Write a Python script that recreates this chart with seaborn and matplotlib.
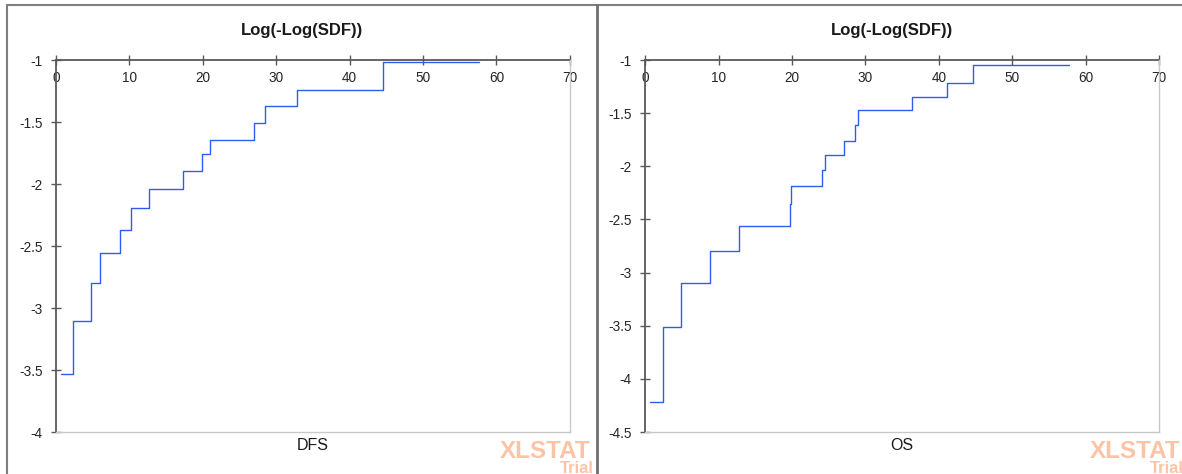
import matplotlib
matplotlib.use("Agg")
import matplotlib.pyplot as plt
import seaborn as sns
import pandas as pd
from matplotlib.lines import Line2D

# Log(-Log(SDF)) step curves for the two survival endpoints
dfs_time = [0.63, 2.35, 4.74, 5.94, 8.70, 10.27, 12.67, 17.25, 19.86, 21.00,
            27.05, 28.50, 32.90, 44.50, 57.60]
dfs_value = [-3.535, -3.105, -2.798, -2.559, -2.370, -2.195, -2.043, -1.895,
             -1.762, -1.643, -1.508, -1.373, -1.238, -1.014, -1.014]

os_time = [0.67, 2.47, 4.88, 8.79, 12.85, 19.74, 19.84, 24.05, 24.50, 27.10,
           28.60, 29.00, 36.40, 41.10, 44.60, 57.70]
os_value = [-4.219, -3.516, -3.094, -2.797, -2.560, -2.358, -2.189, -2.035,
            -1.896, -1.758, -1.607, -1.475, -1.352, -1.214, -1.050, -1.050]

x_ticks = [0, 10, 20, 30, 40, 50, 60, 70]
dfs_y_ticks = [-4, -3.5, -3, -2.5, -2, -1.5, -1]
os_y_ticks = [-4.5, -4, -3.5, -3, -2.5, -2, -1.5, -1]

chart_title = "Log(-Log(SDF))"
panel_names = ["DFS", "OS"]

sns.set_theme(style="white")
plt.rcParams["font.family"] = ["Liberation Sans", "DejaVu Sans"]
plt.rcParams["axes.unicode_minus"] = False

W, H = 1182, 474
fig = plt.figure(figsize=(W / 100, H / 100), dpi=100)
fig.patch.set_facecolor("white")

LINE = "#2E5CF2"
AXIS = "#595959"
BORDER = "#C8C8C8"
FRAME = "#7F7F7F"
WATER = "#FDC3A5"

panels = [
    dict(name=panel_names[0], time=dfs_time, value=dfs_value, yticks=dfs_y_ticks,
         x0=55.9, x1=569.8, frame_l=7, frame_r=597),
    dict(name=panel_names[1], time=os_time, value=os_value, yticks=os_y_ticks,
         x0=645.1, x1=1159.3, frame_l=597, frame_r=1187),
]

top_px, bot_px = 60, 432

for p in panels:
    ax = fig.add_axes([p["x0"] / W, 1 - bot_px / H,
                       (p["x1"] - p["x0"]) / W, (bot_px - top_px) / H])
    df = pd.DataFrame({"time": p["time"], "value": p["value"]})
    sns.lineplot(data=df, x="time", y="value", ax=ax, color=LINE,
                 linewidth=1.0, drawstyle="steps-post", estimator=None)
    ymin = min(p["yticks"])
    ax.set_xlim(0, 70)
    ax.set_ylim(ymin, -1)
    ax.set_xticks(x_ticks)
    ax.set_xticklabels([f"{t:g}" for t in x_ticks])
    ax.set_yticks(p["yticks"])
    ax.set_yticklabels([f"{t:g}" for t in p["yticks"]])
    ax.set_xlabel("")
    ax.set_ylabel("")
    ax.grid(False)

    # horizontal axis runs along y = -1, plot-area border along the bottom
    ax.spines["bottom"].set_position(("data", -1))
    ax.spines["top"].set_position(("data", ymin))
    for side in ("bottom", "left"):
        ax.spines[side].set_color(AXIS)
        ax.spines[side].set_linewidth(1.3)
        ax.spines[side].set_zorder(1)
    for side in ("top", "right"):
        ax.spines[side].set_color(BORDER)
        ax.spines[side].set_linewidth(1.0)

    ax.tick_params(axis="both", direction="inout", length=7, width=1.0,
                   color=AXIS, labelsize=9.8, labelcolor="#262626")
    ax.tick_params(axis="x", bottom=True, top=False, pad=4.5)
    ax.tick_params(axis="y", left=True, right=False, pad=6)

    ax.text(0.5, -0.035, p["name"], transform=ax.transAxes, ha="center",
            va="center", fontsize=11.5, color="#1a1a1a")

    cx = (p["frame_l"] + p["frame_r"]) / 2
    fig.text(cx / W, 1 - 30 / H, chart_title, ha="center", va="center",
             fontsize=12, fontweight="bold", color="#1a1a1a")

    # trial watermark in the lower right corner of each panel
    wx = p["frame_l"] + 493
    fig.text(wx / W, 1 - 458 / H, "XLSTAT", ha="left", va="baseline",
             fontsize=17.5, fontweight="bold", color=WATER)
    fig.text((wx + 94) / W, 1 - 473 / H, "Trial", ha="right", va="baseline",
             fontsize=12, fontweight="bold", color=WATER)

# panel frames
def fig_line(xs, ys, **kw):
    fig.add_artist(Line2D([x / W for x in xs], [1 - y / H for y in ys],
                          transform=fig.transFigure, **kw))

fig_line([7, 7], [5, H + 2], color=FRAME, lw=1.5)
fig_line([7, W + 2], [5, 5], color=FRAME, lw=1.5)
fig_line([597, 597], [5, H + 2], color="#6F6F6F", lw=2.0)

fig.savefig("out.png", dpi=100)
